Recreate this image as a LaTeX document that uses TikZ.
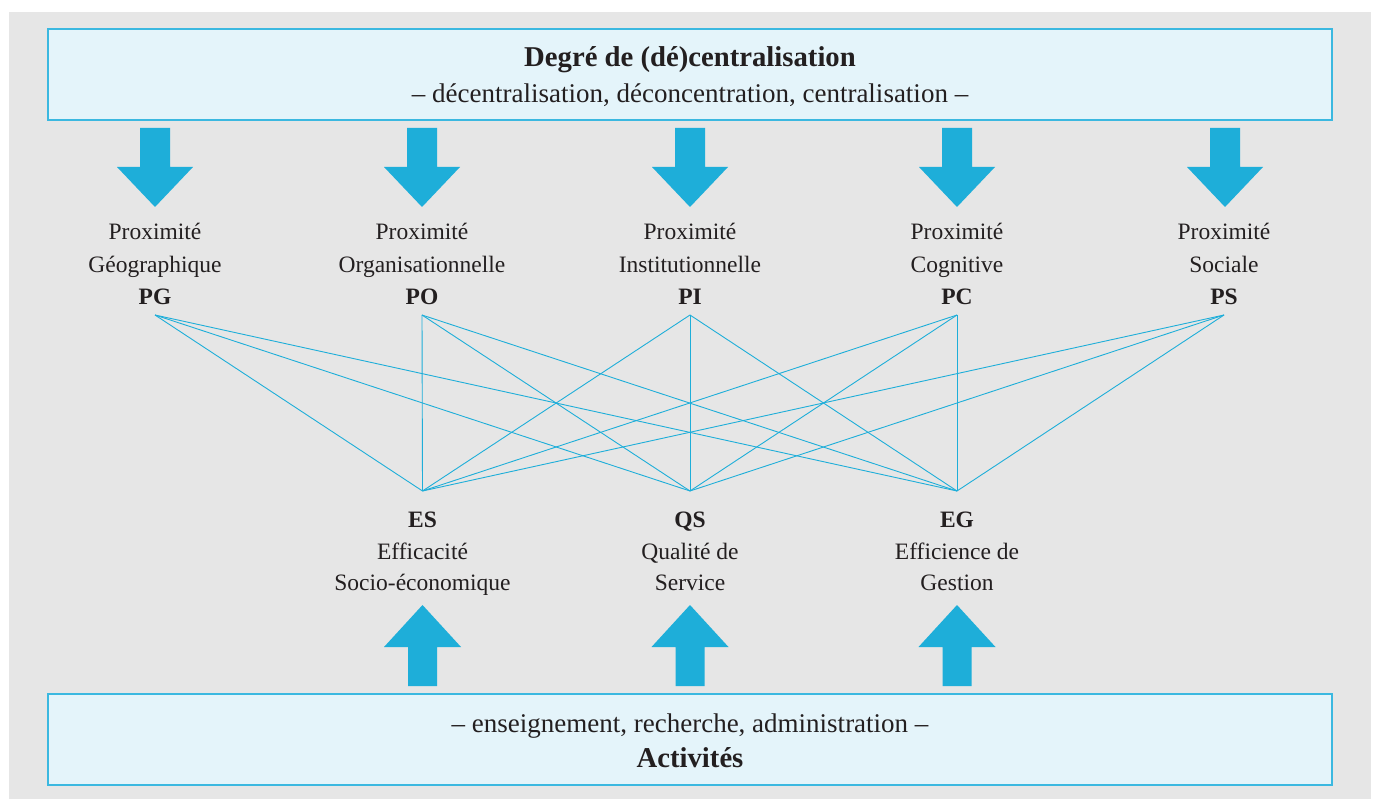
\documentclass[tikz,border=0pt]{standalone}
\usepackage{fontspec}
\setmainfont{Liberation Serif}
\definecolor{bg}{HTML}{E6E6E6}
\definecolor{boxfill}{HTML}{E4F4FA}
\definecolor{cyanc}{HTML}{1EAED9}
\definecolor{boxborder}{HTML}{3BB8E0}
\definecolor{txt}{HTML}{231F20}
\begin{document}
\begin{tikzpicture}[x=1pt,y=-1pt,
  bigbox/.style={draw=boxborder,line width=1.3pt,fill=boxfill,minimum width=1284pt,minimum height=91pt,inner sep=0pt},
  lbl/.style={anchor=base,inner sep=0pt,text=txt,font=\fontsize{23.5}{28}\selectfont},
  blbl/.style={lbl,font=\fontsize{23.5}{28}\selectfont\bfseries},
  boxtxt/.style={lbl,font=\fontsize{27}{32}\selectfont},
  ttl/.style={lbl,font=\fontsize{28.7}{34}\selectfont\bfseries},
  link/.style={draw=cyanc,line width=0.9pt},
  bigarrow/.style={fill=cyanc}]
\fill[white] (0,0) rectangle (1373,799);
\useasboundingbox (0,0) rectangle (1373,799);
\fill[bg] (9,12) rectangle (1371,799);
% boxes
\node[bigbox] (top) at (690,74.5) {};
\node[bigbox] (bot) at (690,739.5) {};
\node[ttl] (t1) at (690,67) {Degré de (dé)centralisation};
\node[boxtxt] (t2) at (690,102.5) {– décentralisation, déconcentration, centralisation –};
\node[boxtxt] (b1) at (690,732) {– enseignement, recherche, administration –};
\node[ttl] (b2) at (690,767) {Activités};
% down arrows
\foreach \n/\x in {1/155,2/422,3/690,4/957,5/1225}{
  \coordinate (d\n) at (\x,128);
  \fill[bigarrow] (d\n) ++(-15,0) -- ++(30,0) -- ++(0,39) -- ++(23,0) -- ++(-38,40) -- ++(-38,-40) -- ++(23,0) -- cycle;
}
% up arrows
\foreach \n/\x in {1/422.5,2/690,3/957}{
  \coordinate (u\n) at (\x,686);
  \fill[bigarrow] (u\n) ++(-14.5,0) -- ++(29,0) -- ++(0,-39) -- ++(24,0) -- ++(-38.5,-42) -- ++(-38.5,42) -- ++(24,0) -- cycle;
}
% proximity labels
\foreach \n/\x/\a/\b in {PG/155/Proximité/Géographique,PO/422/Proximité/Organisationnelle,PI/690/Proximité/Institutionnelle,PC/957/Proximité/Cognitive,PS/1224/Proximité/Sociale}{
  \node[lbl] (\n a) at (\x,240) {\a};
  \node[lbl] (\n b) at (\x,272.5) {\b};
  \node[blbl] (\n) at (\x,305) {\n};
  \coordinate (\n p) at (\x,315);
}
% performance labels
\foreach \n/\x/\a/\b in {ES/422.5/Efficacité/Socio-économique,QS/690/Qualité de/Service,EG/957/Efficience de/Gestion}{
  \node[blbl] (\n) at (\x,527) {\n};
  \node[lbl] (\n a) at (\x,559) {\a};
  \node[lbl] (\n b) at (\x,590.5) {\b};
  \coordinate (\n p) at (\x,491);
}
% links
\foreach \p in {PG,PO,PI,PC,PS}{
  \foreach \q in {ES,QS,EG}{
    \draw[link] (\p p) -- (\q p);
  }
}
\end{tikzpicture}
\end{document}
